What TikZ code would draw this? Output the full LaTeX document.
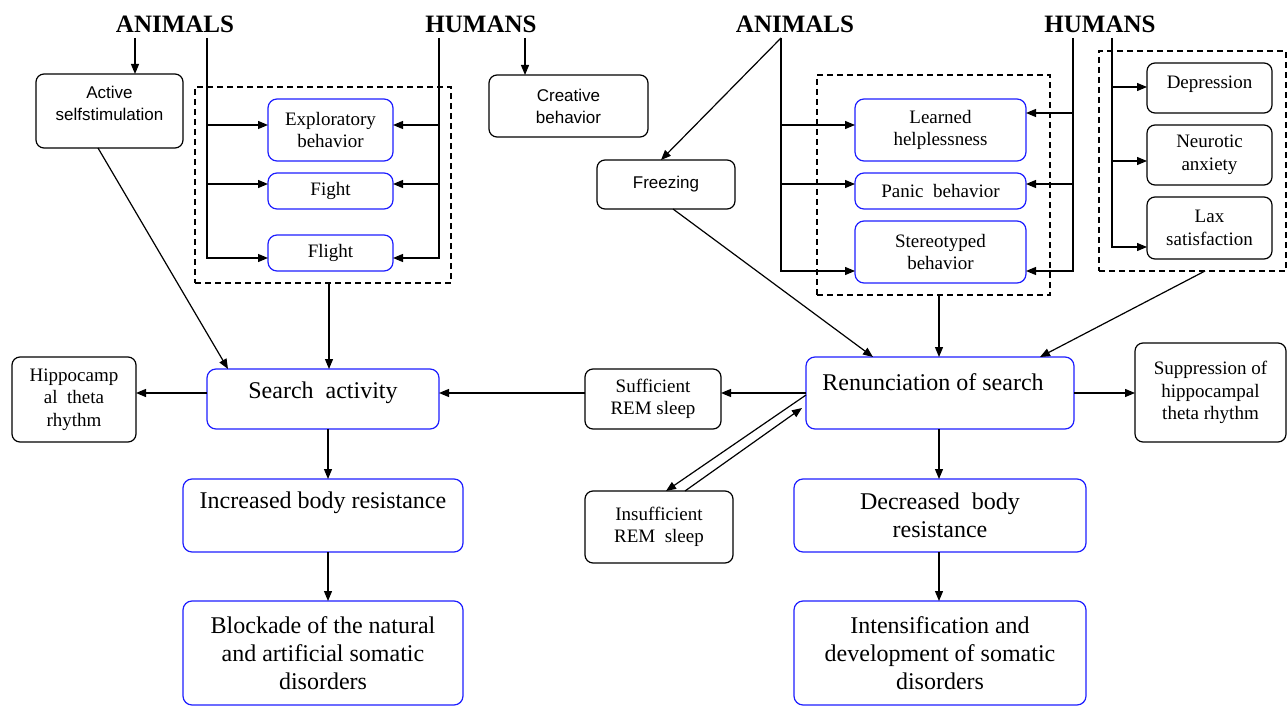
\documentclass[tikz,border=0pt]{standalone}
\usepackage{fontspec}
\setmainfont{Liberation Serif}
\newfontfamily\arialf{Liberation Sans}
\usetikzlibrary{arrows.meta,calc}
\definecolor{bbl}{RGB}{30,30,255}
\begin{document}
\begin{tikzpicture}[x=1pt,y=-1pt,
  every node/.style={inner sep=0pt, outer sep=0pt},
  blk/.style={draw, rounded corners=8pt, line width=1.2pt},
  blu/.style={draw=bbl, rounded corners=9pt, line width=1.2pt},
  arr/.style={line width=1.2pt, -{Triangle[length=10pt,width=8pt]}},
  dsh/.style={draw, line width=1.2pt, dash pattern=on 6pt off 4pt},
  hd/.style={font=\bfseries\fontsize{25}{28}\selectfont},
  ss/.style={font=\arialf\fontsize{17}{22}\selectfont, align=center},
  sm/.style={font=\fontsize{19}{22.5}\selectfont, align=center},
  bg/.style={font=\fontsize{24}{28}\selectfont, align=center},
]
\fill[white] (0,0) rectangle (1288,706);
\useasboundingbox (0,0) rectangle (1288,706);

% headings
\node[hd] (animL) at (175,24) {ANIMALS};
\node[hd] (humL) at (481,24) {HUMANS};
\node[hd] (animR) at (795,24) {ANIMALS};
\node[hd] (humR) at (1100,24) {HUMANS};

% left top
\node[blk, minimum width=147pt, minimum height=74pt] (active) at (109.5,111) {};
\node[ss] (active-t) at (109.5,103) {Active\\selfstimulation};
\node[blk, ss, minimum width=159pt, minimum height=62pt] (creative) at (568.5,106) {Creative\\behavior};
\node[dsh, minimum width=256pt, minimum height=196pt] (dashL) at (323,185) {};
\node[blu, sm, minimum width=125pt, minimum height=62pt] (explor) at (330.5,130) {Exploratory\\behavior};
\node[blu, sm, minimum width=125pt, minimum height=36pt] (fight) at (330.5,191) {Fight};
\node[blu, sm, minimum width=125pt, minimum height=36pt] (flight) at (330.5,253) {Flight};

% left middle / bottom
\node[blk, sm, minimum width=124pt, minimum height=85pt] (hippo) at (74,399.5) {Hippocamp\\al\ \ theta\\rhythm};
\node[blu, minimum width=232pt, minimum height=60pt] (search) at (323,399) {};
\node[bg] (search-t) at (323,393) {Search\ \ activity};
\node[blu, minimum width=280pt, minimum height=73pt] (incr) at (323,515.5) {};
\node[bg] (incr-t) at (323,503) {Increased body resistance};
\node[blu, bg, minimum width=280pt, minimum height=104pt] (block) at (323,653) {Blockade of the natural\\and artificial somatic\\disorders};

% middle
\node[blk, sm, minimum width=136pt, minimum height=60pt] (suff) at (653,399) {Sufficient\\REM sleep};
\node[blk, sm, minimum width=148pt, minimum height=72pt] (insuf) at (659,527) {Insufficient\\REM\ \ sleep};

% right top
\node[blk, ss, minimum width=138pt, minimum height=49pt] (freez) at (666,184.5) {Freezing};
\node[dsh, minimum width=233pt, minimum height=220pt] (dashM) at (933.5,185) {};
\node[blu, sm, minimum width=171pt, minimum height=62pt] (learned) at (940.5,130) {Learned\\helplessness};
\node[blu, sm, minimum width=171pt, minimum height=36pt] (panic) at (940.5,191) {Panic\ \ behavior};
\node[blu, sm, minimum width=171pt, minimum height=62pt] (stereo) at (940.5,252) {Stereotyped\\behavior};
\node[dsh, minimum width=187pt, minimum height=220pt] (dashR) at (1192.5,161) {};
\node[blk, minimum width=125pt, minimum height=50pt] (depr) at (1209.5,88) {};
\node[sm] (depr-t) at (1209.5,84) {Depression};
\node[blk, sm, minimum width=125pt, minimum height=60pt] (neuro) at (1209.5,155) {Neurotic\\anxiety};
\node[blk, sm, minimum width=125pt, minimum height=62pt] (lax) at (1209.5,228) {Lax\\satisfaction};

% right middle / bottom
\node[blu, minimum width=268pt, minimum height=72pt] (renun) at (940,393) {};
\node[bg] (renun-t) at (933,382) {Renunciation of search};
\node[blk, sm, minimum width=151pt, minimum height=99pt] (sup) at (1210.5,392.5) {Suppression of\\hippocampal\\theta rhythm};
\node[blu, bg, minimum width=292pt, minimum height=73pt] (decr) at (940,515.5) {Decreased\ \ body\\resistance};
\node[blu, bg, minimum width=292pt, minimum height=104pt] (intens) at (940,653) {Intensification and\\development of somatic\\disorders};

% ---- connectors left
\coordinate (aL1) at (135,38);
\draw[arr] (aL1) -- (aL1 |- active.north);
\coordinate (aL) at (207,38);
\draw[arr] (aL) |- ($(flight.west)+(0,5)$);
\draw[arr] ($(aL |- explor.west)+(0,-5)$) -- ($(explor.west)+(0,-5)$);
\draw[arr] ($(aL |- fight.west)+(0,-7)$) -- ($(fight.west)+(0,-7)$);
\coordinate (hL) at (439,38);
\draw[arr] (hL) |- ($(flight.east)+(0,5)$);
\draw[arr] ($(hL |- explor.east)+(0,-5)$) -- ($(explor.east)+(0,-5)$);
\draw[arr] ($(hL |- fight.east)+(0,-7)$) -- ($(fight.east)+(0,-7)$);
\coordinate (hL1) at (525,38);
\draw[arr] (hL1) -- (hL1 |- creative.north);
\draw[arr] ($(dashL.south)+(6,0)$) -- ($(search.north)+(6,0)$);
\draw[arr] ($(active.south)+(-11.5,0)$) -- ($(search.north)+(-95,0)$);
\draw[arr] (search.west |- search-t) -- (hippo.east |- search-t);
\draw[arr] (suff.west |- search-t) -- (search.east |- search-t);
\draw[arr] ($(search.south)+(5,0)$) -- ($(incr.north)+(5,0)$);
\draw[arr] ($(incr.south)+(5,0)$) -- ($(block.north)+(5,0)$);

% ---- connectors right
\coordinate (aR) at (781,38);
\draw[arr] (aR) -- ($(freez.north)+(-5,0)$);
\draw[arr] (aR) |- ($(stereo.west)+(0,19)$);
\draw[arr] ($(aR |- learned.west)+(0,-5)$) -- ($(learned.west)+(0,-5)$);
\draw[arr] ($(aR |- panic.west)+(0,-7)$) -- ($(panic.west)+(0,-7)$);
\coordinate (hR) at (1073,38);
\draw[arr] (hR) |- ($(stereo.east)+(0,19)$);
\draw[arr] ($(hR |- learned.east)+(0,-17)$) -- ($(learned.east)+(0,-17)$);
\draw[arr] ($(hR |- panic.east)+(0,-7)$) -- ($(panic.east)+(0,-7)$);
\coordinate (hR2) at (1112,38);
\draw[arr] (hR2) |- ($(lax.west)+(0,19)$);
\draw[arr] ($(hR2 |- depr.west)+(0,-1)$) -- ($(depr.west)+(0,-1)$);
\draw[arr] ($(hR2 |- neuro.west)+(0,6)$) -- ($(neuro.west)+(0,6)$);
\draw[arr] ($(freez.south)+(7,0)$) -- ($(renun.north)+(-67,0)$);
\draw[arr] ($(dashM.south)+(5.5,0)$) -- ($(renun.north)+(-1,0)$);
\draw[arr] ($(dashR.south)+(12.5,0)$) -- ($(renun.north)+(100,0)$);
\draw[arr] (renun.west) -- (suff.east |- renun.west);
\draw[arr] (renun.east) -- (sup.west |- renun.east);
\draw[arr] ($(renun.west)+(0,2)$) -- ($(insuf.north)+(7,0)$);
\draw[arr] ($(insuf.north)+(26,0)$) -- ($(renun.west)+(-4,15)$);
\draw[arr] ($(renun.south)+(-1,0)$) -- ($(decr.north)+(-1,0)$);
\draw[arr] ($(decr.south)+(-1,0)$) -- ($(intens.north)+(-1,0)$);
\end{tikzpicture}
\end{document}
